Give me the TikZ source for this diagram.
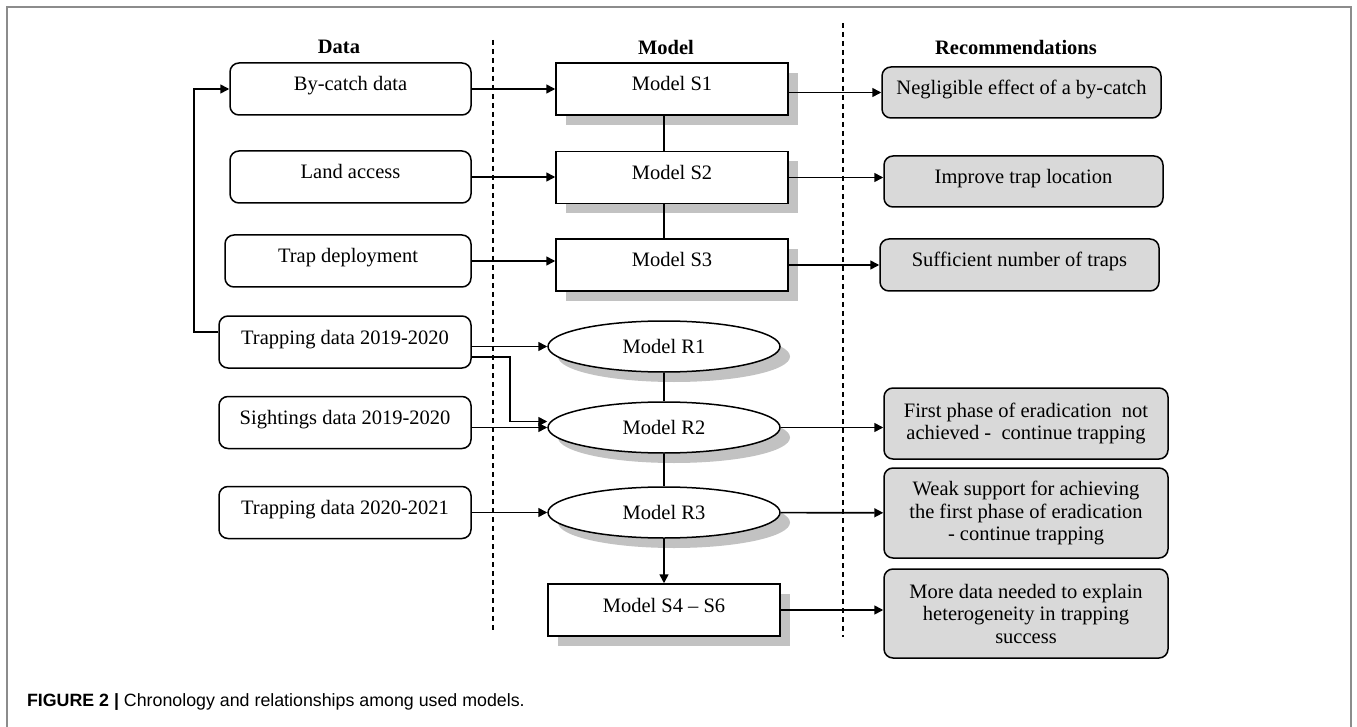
\documentclass[tikz,border=0pt]{standalone}
\usepackage{fontspec}
\setmainfont{Liberation Serif}
\newfontfamily\capfont{Liberation Sans}
\usetikzlibrary{arrows.meta,shapes.geometric,shadows,calc}

\definecolor{recgray}{HTML}{D9D9D9}
\definecolor{shadegray}{HTML}{C2C2C2}
\definecolor{framegray}{HTML}{8C8C8C}

\begin{document}
\begin{tikzpicture}[
		x=1pt,y=-1pt,
		node font=\fontsize{20.5}{22.5}\selectfont,
		head/.style={font=\fontsize{20.5}{22.5}\selectfont\bfseries},
		oneline/.style={text height=14pt,text depth=10pt},
		databox/.style={draw,line width=1.5pt,rounded corners=9pt,inner sep=0pt,
			minimum width=#1,minimum height=52pt,align=center,oneline},
		modelbox/.style={draw,line width=1.5pt,fill=white,inner sep=0pt,
			minimum width=232pt,minimum height=52pt,oneline,
			drop shadow={shadow xshift=10pt,shadow yshift=-10pt,fill=shadegray,opacity=1}},
		modelell/.style={modelbox,ellipse,minimum height=51pt,text height=,text depth=},
		recbox/.style n args={2}{draw,line width=1.5pt,fill=recgray,rounded corners=9pt,
			inner sep=0pt,minimum width=#1,minimum height=#2,align=center},
		link/.style={line width=1.6pt},
		flow/.style={link,-{Triangle[length=9pt,width=9pt]}},
		divider/.style={line width=1.2pt,dash pattern=on 5pt off 4pt}
	]
	\useasboundingbox (0,0) rectangle (1357,727);
	\draw[framegray,line width=1.2pt] (7,727) -- (7,7) -- (1351,7) -- (1351,727);
	%
	\node[head] (data_head)  at (339,47)  {Data};
	\node[head] (model_head) at (666,47)  {Model};
	\node[head] (rec_head)   at (1016,47) {Recommendations};
	\draw[divider] (493,40) -- (493,633);
	\draw[divider] (843,23) -- (843,637);
	% data
	\node[databox=241pt] (ByCatch)        at (350.5,89)  {By-catch data};
	\node[databox=241pt] (LandAccess)     at (350.5,177) {Land access};
	\node[databox=246pt] (TrapDeployment) at (348,261)   {Trap deployment};
	\node[databox=252pt] (Trapping1920)   at (345,342)   {Trapping data 2019-2020};
	\node[databox=252pt] (Sightings)      at (345,422.5) {Sightings data 2019-2020};
	\node[databox=252pt] (Trapping2021)   at (345,512.5) {Trapping data 2020-2021};
	% models
	\node[modelbox] (ModelS1)  at (672,89)    {Model S1};
	\node[modelbox] (ModelS2)  at (672,177.5) {Model S2};
	\node[modelbox] (ModelS3)  at (672,265)   {Model S3};
	\node[modelell] (ModelR1)  at (664,346.5) {Model R1};
	\node[modelell] (ModelR2)  at (664,427.5) {Model R2};
	\node[modelell] (ModelR3)  at (664,512.5) {Model R3};
	\node[modelbox] (ModelS46) at (664,610)   {Model S4 – S6};
	% recommendations
	\node[recbox={279pt}{51pt},oneline] (Negligible)   at (1021.5,92.5)  {Negligible effect of a by-catch};
	\node[recbox={279pt}{51pt},oneline] (TrapLocation) at (1023.5,181.5) {Improve trap location};
	\node[recbox={279pt}{52pt},oneline] (NumTraps)     at (1019.5,265)   {Sufficient number of traps};
	\node[recbox={284pt}{71pt}] (FirstPhase)   at (1026,423.5) {First phase of eradication~ not \\ achieved -~ continue trapping};
	\node[recbox={284pt}{90pt}] (WeakSupport)  at (1026,513)   {Weak support for achieving \\ the first phase of eradication \\ - continue trapping};
	\node[recbox={284pt}{89pt}] (MoreData)     at (1026,613.5) {More data needed to explain \\ heterogeneity in trapping \\ success};
	%
	\draw[flow] (ByCatch) -- (ModelS1);
	\draw[flow] (LandAccess.east) -- (LandAccess.east -| ModelS2.west);
	\draw[flow] (TrapDeployment.east) -- (TrapDeployment.east -| ModelS3.west);
	\draw[flow] (Trapping1920.east |- ModelR1) -- (ModelR1.west);
	\draw[flow] ($ (Trapping1920.east) + (0,15) $) -- +(38,0) |- ($ (ModelR2.west) + (0,-6) $);
	\draw[flow] (Sightings.east |- ModelR2) -- (ModelR2.west);
	\draw[flow] (Trapping2021) -- (ModelR3);
	\draw[flow] ($ (Trapping1920.west) + (0,-10) $) -- +(-24,0) |- (ByCatch.west);
	%
	\draw[link] (ModelS1.south -| ModelR1) -- (ModelS2.north -| ModelR1);
	\draw[link] (ModelS2.south -| ModelR1) -- (ModelS3.north -| ModelR1);
	\draw[link] (ModelR1) -- (ModelR2);
	\draw[link] (ModelR2) -- (ModelR3);
	\draw[flow] (ModelR3.south) -- (ModelS46.north);
	%
	\draw[flow] (ModelS1.east |- Negligible) -- (Negligible.west);
	\draw[flow] (ModelS2.east) -- (ModelS2.east -| TrapLocation.west);
	\draw[flow] (ModelS3) -- (NumTraps);
	\draw[flow] (ModelR2.east) -- (ModelR2.east -| FirstPhase.west);
	\draw[flow] (ModelR3) -- (WeakSupport);
	\draw[flow] (ModelS46.east) -- (ModelS46.east -| MoreData.west);
	%
	\node[anchor=west,font=\capfont\fontsize{17.8}{20}\selectfont] (caption) at (20,702)
		{\textbf{FIGURE 2 |} Chronology and relationships among used models.};
\end{tikzpicture}
\end{document}
